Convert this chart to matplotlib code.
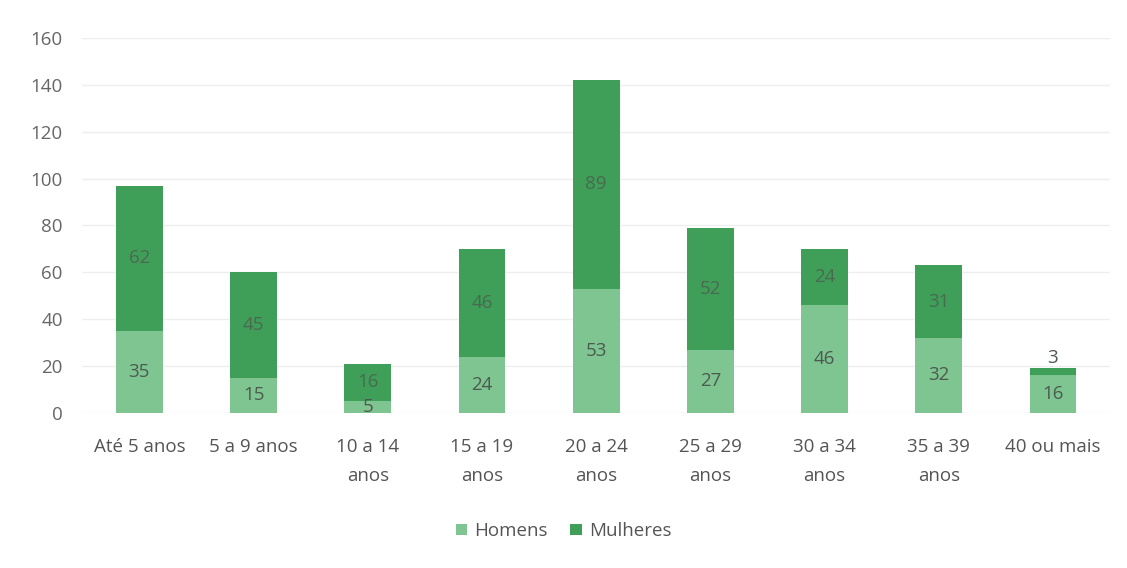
import matplotlib.pyplot as plt
import numpy as np

plt.rcParams['font.family'] = ['Open Sans', 'DejaVu Sans']

categorias = ['Até 5 anos', '5 a 9 anos', '10 a 14\nanos', '15 a 19\nanos', '20 a 24\nanos',
              '25 a 29\nanos', '30 a 34\nanos', '35 a 39\nanos', '40 ou mais']
homens = [35, 15, 5, 24, 53, 27, 46, 32, 16]
mulheres = [62, 45, 16, 46, 89, 52, 24, 31, 3]

cor_h = '#7fc591'
cor_m = '#3f9f59'

fig = plt.figure(figsize=(11.27, 5.68), dpi=100)
ax = fig.add_axes([0.073, 0.273, 0.912, 0.66])

x = np.arange(len(categorias))
larg = 0.41
b1 = ax.bar(x, homens, larg, color=cor_h, label='Homens', zorder=2)
b2 = ax.bar(x, mulheres, larg, bottom=homens, color=cor_m, label='Mulheres', zorder=2)

for i in range(len(x)):
    ax.text(x[i], homens[i] / 2, str(homens[i]), ha='center', va='center',
            fontsize=13.5, color='#4d5a50', zorder=3)
    if mulheres[i] < 5:
        ax.text(x[i], homens[i] + mulheres[i] + 0.5, str(mulheres[i]), ha='center', va='bottom',
                fontsize=13.5, color='#4d5a50', zorder=3)
    else:
        ax.text(x[i], homens[i] + mulheres[i] / 2, str(mulheres[i]), ha='center', va='center',
                fontsize=13.5, color='#4a6a50', zorder=3)

ax.set_xlim(-0.5, len(x) - 0.5)
ax.set_ylim(0, 160)
ax.set_yticks(range(0, 161, 20))
ax.yaxis.grid(True, color='#eeeeee', linewidth=1, zorder=0)
ax.set_xticks(x)
ax.set_xticklabels(categorias, fontsize=13.5, color='#555555', linespacing=1.8)
ax.tick_params(axis='y', labelsize=13.5, labelcolor='#666666', length=0, pad=14)
ax.tick_params(axis='x', length=0, pad=18)
for s in ax.spines.values():
    s.set_visible(False)

fig.legend(handles=[b1, b2], labels=['Homens', 'Mulheres'], loc='center',
           bbox_to_anchor=(0.5, 0.065), ncol=2, frameon=False, fontsize=13.5,
           handlelength=0.6, handleheight=0.6, columnspacing=1.2, handletextpad=0.4,
           labelcolor='#555555')

fig.savefig('out.png', dpi=100, facecolor='white')
